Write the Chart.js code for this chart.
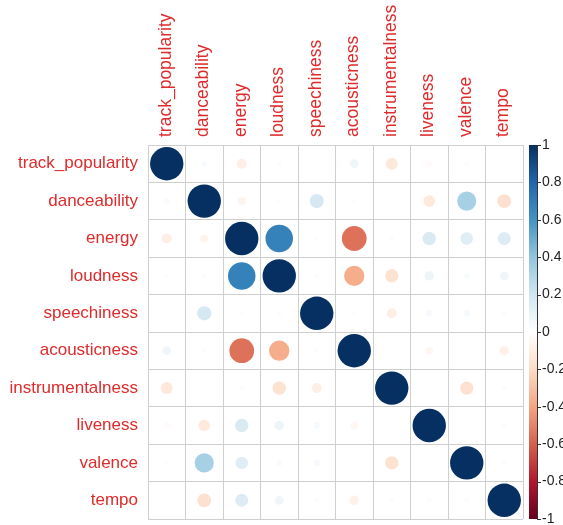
<!DOCTYPE html>
<html>
<head>
<meta charset="utf-8">
<script src="https://cdn.jsdelivr.net/npm/chart.js@4/dist/chart.umd.min.js"></script>
<style>
  html, body { margin: 0; padding: 0; background: #fff; }
  canvas { display: block; }
</style>
</head>
<body>
<canvas id="corr" width="563" height="525"></canvas>
<script>
// Audio feature names, in matrix order
const variables = ['track_popularity', 'danceability', 'energy', 'loudness', 'speechiness',
                   'acousticness', 'instrumentalness', 'liveness', 'valence', 'tempo'];

// Pearson correlations, one row per feature
const trackPopularity  = [ 1.00,  0.03, -0.09, -0.02,  0.00,  0.07, -0.13, -0.03,  0.02,  0.00];
const danceability     = [ 0.03,  1.00, -0.06,  0.02,  0.18, -0.02,  0.00, -0.12,  0.33, -0.17];
const energy           = [-0.09, -0.06,  1.00,  0.68, -0.02, -0.55, -0.02,  0.16,  0.14,  0.15];
const loudness         = [-0.02,  0.02,  0.68,  1.00,  0.02, -0.37, -0.16,  0.08,  0.03,  0.07];
const speechiness      = [ 0.00,  0.18, -0.02,  0.02,  1.00, -0.02, -0.09,  0.04,  0.04,  0.02];
const acousticness     = [ 0.07, -0.02, -0.55, -0.37, -0.02,  1.00,  0.01, -0.05,  0.01, -0.08];
const instrumentalness = [-0.13,  0.00, -0.02, -0.16, -0.09,  0.01,  1.00,  0.01, -0.16,  0.02];
const liveness         = [-0.03, -0.12,  0.16,  0.08,  0.04, -0.05,  0.01,  1.00,  0.01,  0.02];
const valence          = [ 0.02,  0.33,  0.14,  0.03,  0.04,  0.01, -0.16,  0.01,  1.00,  0.02];
const tempo            = [ 0.00, -0.17,  0.15,  0.07,  0.02, -0.08,  0.02,  0.02,  0.02,  1.00];

const corrRows = [trackPopularity, danceability, energy, loudness, speechiness,
                  acousticness, instrumentalness, liveness, valence, tempo];

// Colour legend tick values
const legendTicks = [1, 0.8, 0.6, 0.4, 0.2, 0, -0.2, -0.4, -0.6, -0.8, -1];

// Diverging red-white-blue palette, from -1 to +1
const palette = ['#67001F', '#B2182B', '#D6604D', '#F4A582', '#FDDBC7', '#FFFFFF',
                 '#D1E5F0', '#92C5DE', '#4393C3', '#2166AC', '#053061'];

function hexToRgb(h) {
  const n = parseInt(h.slice(1), 16);
  return [(n >> 16) & 255, (n >> 8) & 255, n & 255];
}

function corrColor(v) {
  const t = (Math.max(-1, Math.min(1, v)) + 1) / 2 * (palette.length - 1);
  const i = Math.min(palette.length - 2, Math.floor(t));
  const f = t - i;
  const a = hexToRgb(palette[i]), b = hexToRgb(palette[i + 1]);
  const c = a.map((x, k) => Math.round(x + (b[k] - x) * f));
  return `rgb(${c[0]},${c[1]},${c[2]})`;
}

// One point per matrix cell, addressed by feature name on both axes
const points = [];
corrRows.forEach((row, i) => row.forEach((v, j) =>
  points.push({ x: variables[j], y: variables[i], v: v })));

const labelRed = '#de2b2b';
const gridGrey = '#cfcfcf';
const fontFamily = '"Liberation Sans", Arial, sans-serif';

function circleRadius(ctx) {
  const xs = ctx.chart.scales.x;
  const cell = Math.abs(xs.getPixelForValue(1) - xs.getPixelForValue(0));
  return Math.sqrt(Math.abs(ctx.raw.v)) * cell * 0.445;
}

function noEdgePadding(s) {
  s.paddingTop = 0; s.paddingBottom = 0; s.paddingLeft = 0; s.paddingRight = 0;
}

// Paints the gradient bar beside the legend scale
const colorBar = {
  id: 'colorBar',
  afterDraw(chart) {
    const s = chart.scales.legend;
    const ctx = chart.ctx;
    const top = s.getPixelForValue(1);
    const bottom = s.getPixelForValue(-1);
    const x0 = s.left + 6, w = 8;
    const g = ctx.createLinearGradient(0, bottom, 0, top);
    palette.forEach((c, k) => g.addColorStop(k / (palette.length - 1), c));
    ctx.save();
    ctx.fillStyle = g;
    ctx.fillRect(x0, top, w, bottom - top);
    ctx.strokeStyle = '#333';
    ctx.lineWidth = 1;
    ctx.beginPath();
    ctx.moveTo(x0 + w + 0.5, top);
    ctx.lineTo(x0 + w + 0.5, bottom);
    s.ticks.forEach(t => {
      const y = Math.round(s.getPixelForValue(t.value)) + 0.5;
      ctx.moveTo(x0 + w, y);
      ctx.lineTo(x0 + w + 4, y);
    });
    ctx.stroke();
    ctx.restore();
  }
};

new Chart(document.getElementById('corr'), {
  type: 'scatter',
  data: {
    datasets: [{
      data: points,
      pointRadius: circleRadius,
      pointHoverRadius: circleRadius,
      pointBackgroundColor: ctx => corrColor(ctx.raw.v),
      pointBorderWidth: 0
    }]
  },
  options: {
    responsive: false,
    animation: false,
    events: [],
    layout: { padding: { left: 0, top: 0, right: 0, bottom: 6 } },
    plugins: { legend: { display: false }, tooltip: { enabled: false } },
    scales: {
      x: {
        type: 'category',
        labels: variables,
        position: 'top',
        offset: true,
        grid: { offset: true, color: gridGrey, drawTicks: false },
        border: { color: gridGrey },
        ticks: {
          autoSkip: false, minRotation: 90, maxRotation: 90, padding: 8,
          labelOffset: 20,
          color: labelRed, font: { family: fontFamily, size: 17.5 }
        },
        afterFit: s => { s.height = 145; noEdgePadding(s); }
      },
      y: {
        type: 'category',
        labels: variables,
        position: 'left',
        offset: true,
        grid: { offset: true, color: gridGrey, drawTicks: false },
        border: { color: gridGrey },
        ticks: {
          autoSkip: false, padding: 10,
          color: labelRed, font: { family: fontFamily, size: 17 }
        },
        afterFit: s => { s.width = 148; noEdgePadding(s); }
      },
      legend: {
        type: 'linear',
        position: 'right',
        min: -1,
        max: 1,
        grid: { display: false, drawOnChartArea: false, drawTicks: true, tickLength: 16 },
        border: { display: false },
        afterBuildTicks: s => { s.ticks = legendTicks.map(v => ({ value: v })); },
        ticks: {
          padding: 3, color: '#222',
          font: { family: fontFamily, size: 14 },
          callback: v => String(v)
        },
        afterFit: s => { s.width = 40; noEdgePadding(s); }
      }
    }
  },
  plugins: [colorBar]
});
</script>
</body>
</html>
